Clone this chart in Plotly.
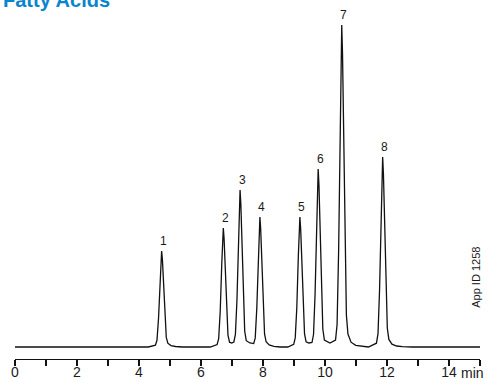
import plotly.graph_objects as go

# Chromatogram trace (time in min, signal in arbitrary units, baseline = 0)
time_min = [
    0.00, 4.30, 4.53, 4.58, 4.63, 4.68, 4.705, 4.73, 4.755, 4.78, 4.83, 4.88, 4.93, 5.03, 5.18, 5.40,
    6.30, 6.52, 6.57, 6.62, 6.67, 6.695, 6.72, 6.745, 6.77, 6.82, 6.87, 6.92, 6.99,
    7.06, 7.11, 7.16, 7.21, 7.235, 7.26, 7.285, 7.31, 7.36, 7.41, 7.46, 7.58,
    7.70, 7.75, 7.80, 7.85, 7.875, 7.90, 7.925, 7.95, 8.00, 8.05, 8.10, 8.20, 8.35, 8.55,
    8.80, 8.99, 9.04, 9.09, 9.14, 9.165, 9.19, 9.215, 9.24, 9.29, 9.34, 9.39, 9.48,
    9.58, 9.63, 9.68, 9.73, 9.755, 9.78, 9.805, 9.83, 9.88, 9.93, 9.98, 10.16,
    10.34, 10.39, 10.44, 10.49, 10.515, 10.54, 10.565, 10.59, 10.64, 10.69, 10.74, 10.84, 10.99, 11.20,
    11.40, 11.66, 11.71, 11.76, 11.81, 11.835, 11.86, 11.885, 11.91, 11.96, 12.01, 12.06, 12.16, 12.31, 12.50, 12.80,
    15.00,
]
signal = [
    0, 0, 1.9, 6.7, 28.8, 67.2, 86.4, 96, 87.4, 69.1, 31.7, 9.6, 3.8, 1.4, 0.5, 0,
    0, 2.4, 8.3, 35.7, 83.3, 107, 119, 108, 85.7, 39.3, 11.9, 4.8, 4,
    5, 12.5, 47, 110, 141, 157, 143, 113, 52, 15.7, 6.3, 4,
    3.4, 9.1, 39, 91, 117, 130, 118, 94, 43, 13, 5.2, 2, 0.7, 0,
    0, 2.6, 9.1, 39, 91, 117, 130, 118, 94, 43, 13, 5.2, 4,
    4.5, 12.5, 53, 125, 160, 178, 162, 128, 59, 18, 7, 4,
    7, 22.5, 97, 225, 290, 322, 293, 232, 106, 32, 13, 4.8, 1.6, 0.5,
    0, 3.8, 13.3, 57, 133, 171, 190, 173, 137, 63, 19, 7.6, 2.9, 1, 0.3, 0,
    0,
]

# Peak labels
peak_labels = ["1", "2", "3", "4", "5", "6", "7", "8"]
peak_times = [4.73, 6.72, 7.26, 7.90, 9.19, 9.78, 10.54, 11.86]
peak_heights = [96, 119, 157, 130, 130, 178, 322, 190]

# Axis ticks
tick_vals = list(range(0, 16))
tick_text = ["0", "", "2", "", "4", "", "6", "", "8", "", "10", "", "12", "", "14", ""]

FONT = "Liberation Sans, Arial, Helvetica, sans-serif"
TXT = "#1a1a1a"

fig = go.Figure()
fig.add_trace(go.Scatter(
    x=time_min, y=signal, mode="lines",
    line=dict(color="#111111", width=1.3, shape="linear"),
    hoverinfo="skip", showlegend=False,
))

for lab, t, h in zip(peak_labels, peak_times, peak_heights):
    fig.add_annotation(x=t, y=h, text=lab, showarrow=False, xanchor="center", yanchor="bottom",
                       xshift=2, yshift=1, font=dict(family=FONT, size=12, color=TXT))

# unit label after "14"
fig.add_annotation(x=14, y=0, xref="x", yref="paper", text="min", showarrow=False,
                   xanchor="left", yanchor="top", xshift=10, yshift=-4,
                   font=dict(family=FONT, size=14, color=TXT))

# title (partially cut at top)
fig.add_annotation(x=0, y=1, xref="paper", yref="paper", text="<b>Fatty Acids</b>", showarrow=False,
                   xanchor="left", yanchor="middle", xshift=-14, yshift=20,
                   font=dict(family=FONT, size=20, color="#0a84cc"))

# App ID text
fig.add_annotation(x=0.991, y=0.242, xref="paper", yref="paper", text="App ID 1258", showarrow=False,
                   textangle=-90, xanchor="center", yanchor="middle",
                   font=dict(family=FONT, size=11, color=TXT))

fig.update_layout(
    width=488, height=379,
    margin=dict(l=15, r=8, t=20, b=20, autoexpand=False),
    paper_bgcolor="white", plot_bgcolor="white",
    font=dict(family=FONT, size=14, color=TXT),
    xaxis=dict(range=[0, 15], tickmode="array", tickvals=tick_vals, ticktext=tick_text,
               showline=True, linecolor="#111111", linewidth=1.2, ticks="outside", ticklen=6,
               tickwidth=1.2, tickcolor="#111111", showgrid=False, zeroline=False,
               automargin=False, ticklabelstandoff=-6,
               tickfont=dict(family=FONT, size=14, color=TXT)),
    yaxis=dict(range=[-12, 327], visible=False, showgrid=False, zeroline=False, automargin=False),
)

fig.write_html("out.html", config={"displayModeBar": False, "staticPlot": True},
               post_script="document.body.style.margin='0';document.body.style.overflow='hidden';")
